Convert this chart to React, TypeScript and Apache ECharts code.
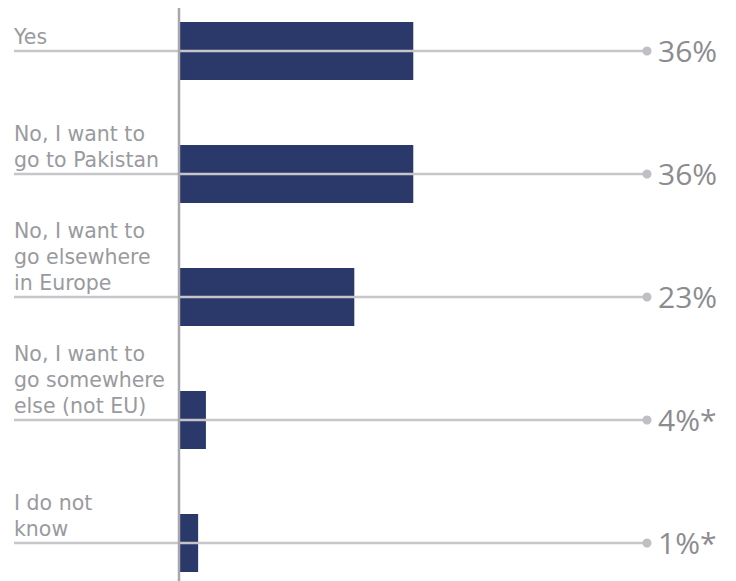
import React, { useEffect, useRef } from "react";
import * as echarts from "echarts";

const categories = [
  "Yes",
  "No, I want to\ngo to Pakistan",
  "No, I want to\ngo elsewhere\nin Europe",
  "No, I want to\ngo somewhere\nelse (not EU)",
  "I do not\nknow",
];
// bar lengths as drawn (chart units, %)
const barValues = [36, 36, 26.9, 4, 2.8];
// value labels as printed
const valueLabels = ["36%", "36%", "23%", "4%*", "1%*"];

export default function App() {
  const ref = useRef<HTMLDivElement>(null);
  useEffect(() => {
    if (!ref.current) return;
    const chart = echarts.init(ref.current, null, { renderer: "svg" });
    const lineColor = "#c6c6ca";
    chart.setOption({
      animation: false,
      grid: { left: 180, right: 232, top: 51, bottom: 38 },
      xAxis: { type: "value", min: 0, max: 50, show: false },
      yAxis: {
        type: "category",
        data: categories,
        inverse: true,
        boundaryGap: false,
        axisLine: { show: false },
        axisTick: { show: false },
        splitLine: { show: false },
        axisLabel: {
          align: "left",
          verticalAlign: "bottom",
          margin: 166,
          fontSize: 20.5,
          lineHeight: 26,
          color: "#9a9a9e",
          fontFamily: "DejaVu Sans",
          padding: [0, 0, 1, 0],
        },
      },
      graphic: [
        {
          type: "line",
          shape: { x1: 179, y1: 8, x2: 179, y2: 581 },
          style: { stroke: "#a8a8ac", lineWidth: 2.5 },
          z: 100,
        },
      ],
      series: [
        {
          type: "bar",
          data: barValues,
          barWidth: 58,
          clip: false,
          itemStyle: { color: "#2b386a" },
          z: 2,
        },
        {
          type: "custom",
          z: 10,
          clip: false,
          data: categories.map((_, i) => [0, i, valueLabels[i]]),
          encode: { x: 0, y: 1 },
          renderItem: (params: any, api: any) => {
            const y = api.coord([0, api.value(1)])[1];
            const label = valueLabels[params.dataIndex];
            return {
              type: "group",
              children: [
                {
                  type: "line",
                  shape: { x1: 14, y1: y, x2: 647, y2: y },
                  style: { stroke: lineColor, lineWidth: 2.5 },
                },
                {
                  type: "circle",
                  shape: { cx: 647, cy: y, r: 4.5 },
                  style: { fill: "#bfc0c4" },
                },
                {
                  type: "text",
                  x: 658,
                  y: y - 1,
                  style: {
                    text: label,
                    fontSize: 30,
                    fontFamily: "Open Sans",
                    fill: "#8c8c90",
                    verticalAlign: "middle",
                    align: "left",
                  },
                },
              ],
            };
          },
        },
      ],
    });
    return () => chart.dispose();
  }, []);
  return (
    <div
      ref={ref}
      style={{ position: "fixed", left: 0, top: 0, width: 736, height: 581, background: "#fff" }}
    />
  );
}
